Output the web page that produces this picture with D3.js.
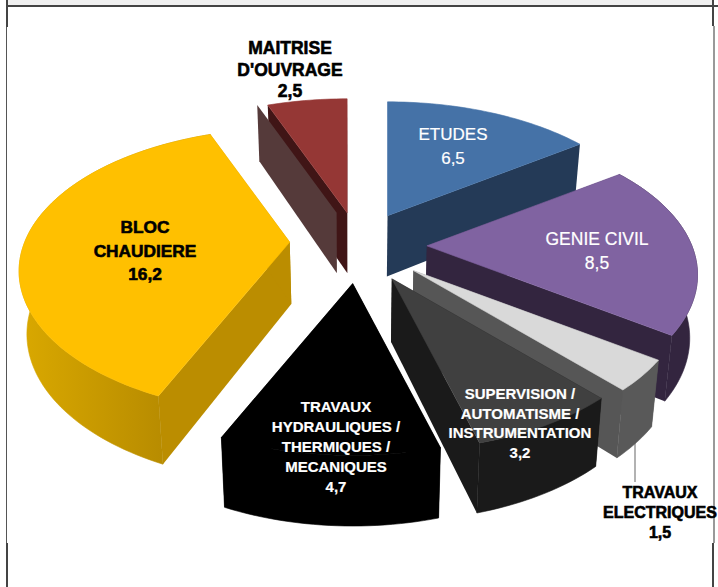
<!DOCTYPE html>
<html><head><meta charset="utf-8">
<script src="https://cdn.jsdelivr.net/npm/d3@7/dist/d3.min.js"></script>
<style>html,body{margin:0;padding:0;background:#fff}svg{display:block}</style>
</head><body><svg id="c" width="718" height="587"></svg>
<script>
// ---- data ----
const categories = ["ETUDES","GENIE CIVIL","TRAVAUX\nELECTRIQUES","SUPERVISION /\nAUTOMATISME /\nINSTRUMENTATION","TRAVAUX\nHYDRAULIQUES /\nTHERMIQUES /\nMECANIQUES","BLOC\nCHAUDIERE","MAITRISE\nD'OUVRAGE"];
const values = [6.5,8.5,1.5,3.2,4.7,16.2,2.5];
// ---- style ----
const topColors  = ["#4572a7","#8063a1","#d9d9d9","#404040","#000000","#ffc000","#953735"];
const sideColors = ["#243a57","#33253f","#595959","#1a1a1a","#000000","url(#goldWall)","#401516"];
const cutColors  = ["#243a57","#33253f","#565656","#1a1a1a","#000000","#bb8d00","#401516"];
const textColors = ["#fff","#fff","#000","#fff","#fff","#000","#000"];
// label layout
const labelAnchors = [[453,140],[597,245],[660,498],[520,399],[336,412],[145,233],[290,54]];
const lineHeights  = [24,24,20,19.7,20,23.5,21.5];
const fontSizes    = [17,17.5,16,15,15,17.3,17.5];
const fontWeights  = ["normal","normal","bold","bold","bold","bold","bold"];
const drawOrder = [6,0,1,2,3,4,5];
const backSlices = [0,6]; // outer wall faces away from the viewer
const nudges = [[-1.5,0],[-1,0],[1,0],[-2,0],[-1,0],[-0.5,-3],[0,0]];
// ---- projection of the tilted pie ----
const W=718,H=587;
const center=[359,246], explode=.26, A=265, B=137, K=.203;
const shrink=.977;
const depth=d3.scaleLinear().domain([100,440]).range([56,70]);
const proj=(s,c)=>{const w=1+K*c;return [A*s/w,-B*c/w];};
const pie=d3.pie().sort(null).value(d=>d)(values);
const svg=d3.select("#c");
const defs=svg.append("defs");
const g=defs.append("linearGradient").attr("id","goldWall").attr("gradientUnits","userSpaceOnUse")
  .attr("x1",22).attr("x2",162).attr("y1",0).attr("y2",0);
g.append("stop").attr("offset",0).attr("stop-color","#d9a800");
g.append("stop").attr("offset",1).attr("stop-color","#b88c00");
const line=d3.line();
const closed=p=>line(p)+"Z";
const bottom=p=>[center[0]+(p[0]-center[0])*shrink,p[1]+depth(p[1])];
// frame
svg.append("rect").attr("x",8).attr("y",0).attr("width",704).attr("height",5).attr("fill","#f0f0f0");
const frame=[[[6,6],[W,6],"#444",2],[[7,0],[7,27],"#444",2],[[6.5,27],[6.5,543],"#555",1],[[7,543],[7,587],"#444",2],
  [[713,0],[713,26],"#444",2],[[714,26],[714,543],"#999",2],[[713,543],[713,587],"#444",2]];
frame.forEach(f=>svg.append("path").attr("d",line([f[0],f[1]])).attr("stroke",f[2]).attr("stroke-width",f[3]).attr("fill","none"));
// leader
svg.append("path").attr("d",line([[635,440],[635,482]])).attr("stroke","#999").attr("stroke-width",1.5).attr("fill","none");

drawOrder.forEach(i=>{
  const d=pie[i];
  const mid=(d.startAngle+d.endAngle)/2;
  const o=proj(explode*Math.sin(mid),explode*Math.cos(mid));
  const apex=[center[0]+o[0]+nudges[i][0],center[1]+o[1]+nudges[i][1]];
  const n=Math.max(4,Math.ceil((d.endAngle-d.startAngle)*40));
  const arc=d3.range(n+1).map(j=>{
    const t=d.startAngle+(d.endAngle-d.startAngle)*j/n;
    const p=proj(Math.sin(t),Math.cos(t));
    return [apex[0]+p[0],apex[1]+p[1]];
  });
  const arcB=arc.map(bottom);
  const a0=arc[0],a1=arc[n],ab=bottom(apex);
  const gs=svg.append("g");
  const cut=(p,off)=>closed([p,apex,ab,bottom(p)].map(q=>[q[0]+off,q[1]]));
  if(i===0){
    gs.append("path").attr("d",cut(a1,0)).attr("fill",cutColors[i]);
  } else {
    gs.append("path").attr("d",cut(a0,0)).attr("fill",cutColors[i]);
    if(i!==6) gs.append("path").attr("d",cut(a1,0)).attr("fill",cutColors[i]);
    else gs.append("path").attr("d",cut(a1,0)).attr("fill",cutColors[i]);
  }
  if(!backSlices.includes(i))
    gs.append("path").attr("d",closed(arc.concat(arcB.slice().reverse()))).attr("fill",sideColors[i])
      .attr("stroke",sideColors[i]).attr("stroke-width",.6);
  if(i===6) gs.append("path").attr("d",cut(a0,-10.5)).attr("fill","#553a3a");
  gs.append("path").attr("d",closed([apex].concat(arc))).attr("fill",topColors[i])
    .attr("stroke",topColors[i]).attr("stroke-width",.6);
});
// labels
categories.forEach((c,i)=>{
  const lines=c.split("\n").concat([String(values[i]).replace(".",",")]);
  const dark=textColors[i]==="#000";
  const t=svg.append("text").attr("text-anchor","middle")
    .attr("font-family","'Liberation Sans',Arial,sans-serif")
    .attr("font-size",fontSizes[i])
    .attr("font-weight",fontWeights[i])
    .attr("fill",textColors[i])
    .attr("stroke",textColors[i]).attr("stroke-width",dark?.6:.2);
  lines.forEach((l,j)=>t.append("tspan").attr("x",labelAnchors[i][0]).attr("y",labelAnchors[i][1]+j*lineHeights[i]).text(l));
});
</script></body></html>
